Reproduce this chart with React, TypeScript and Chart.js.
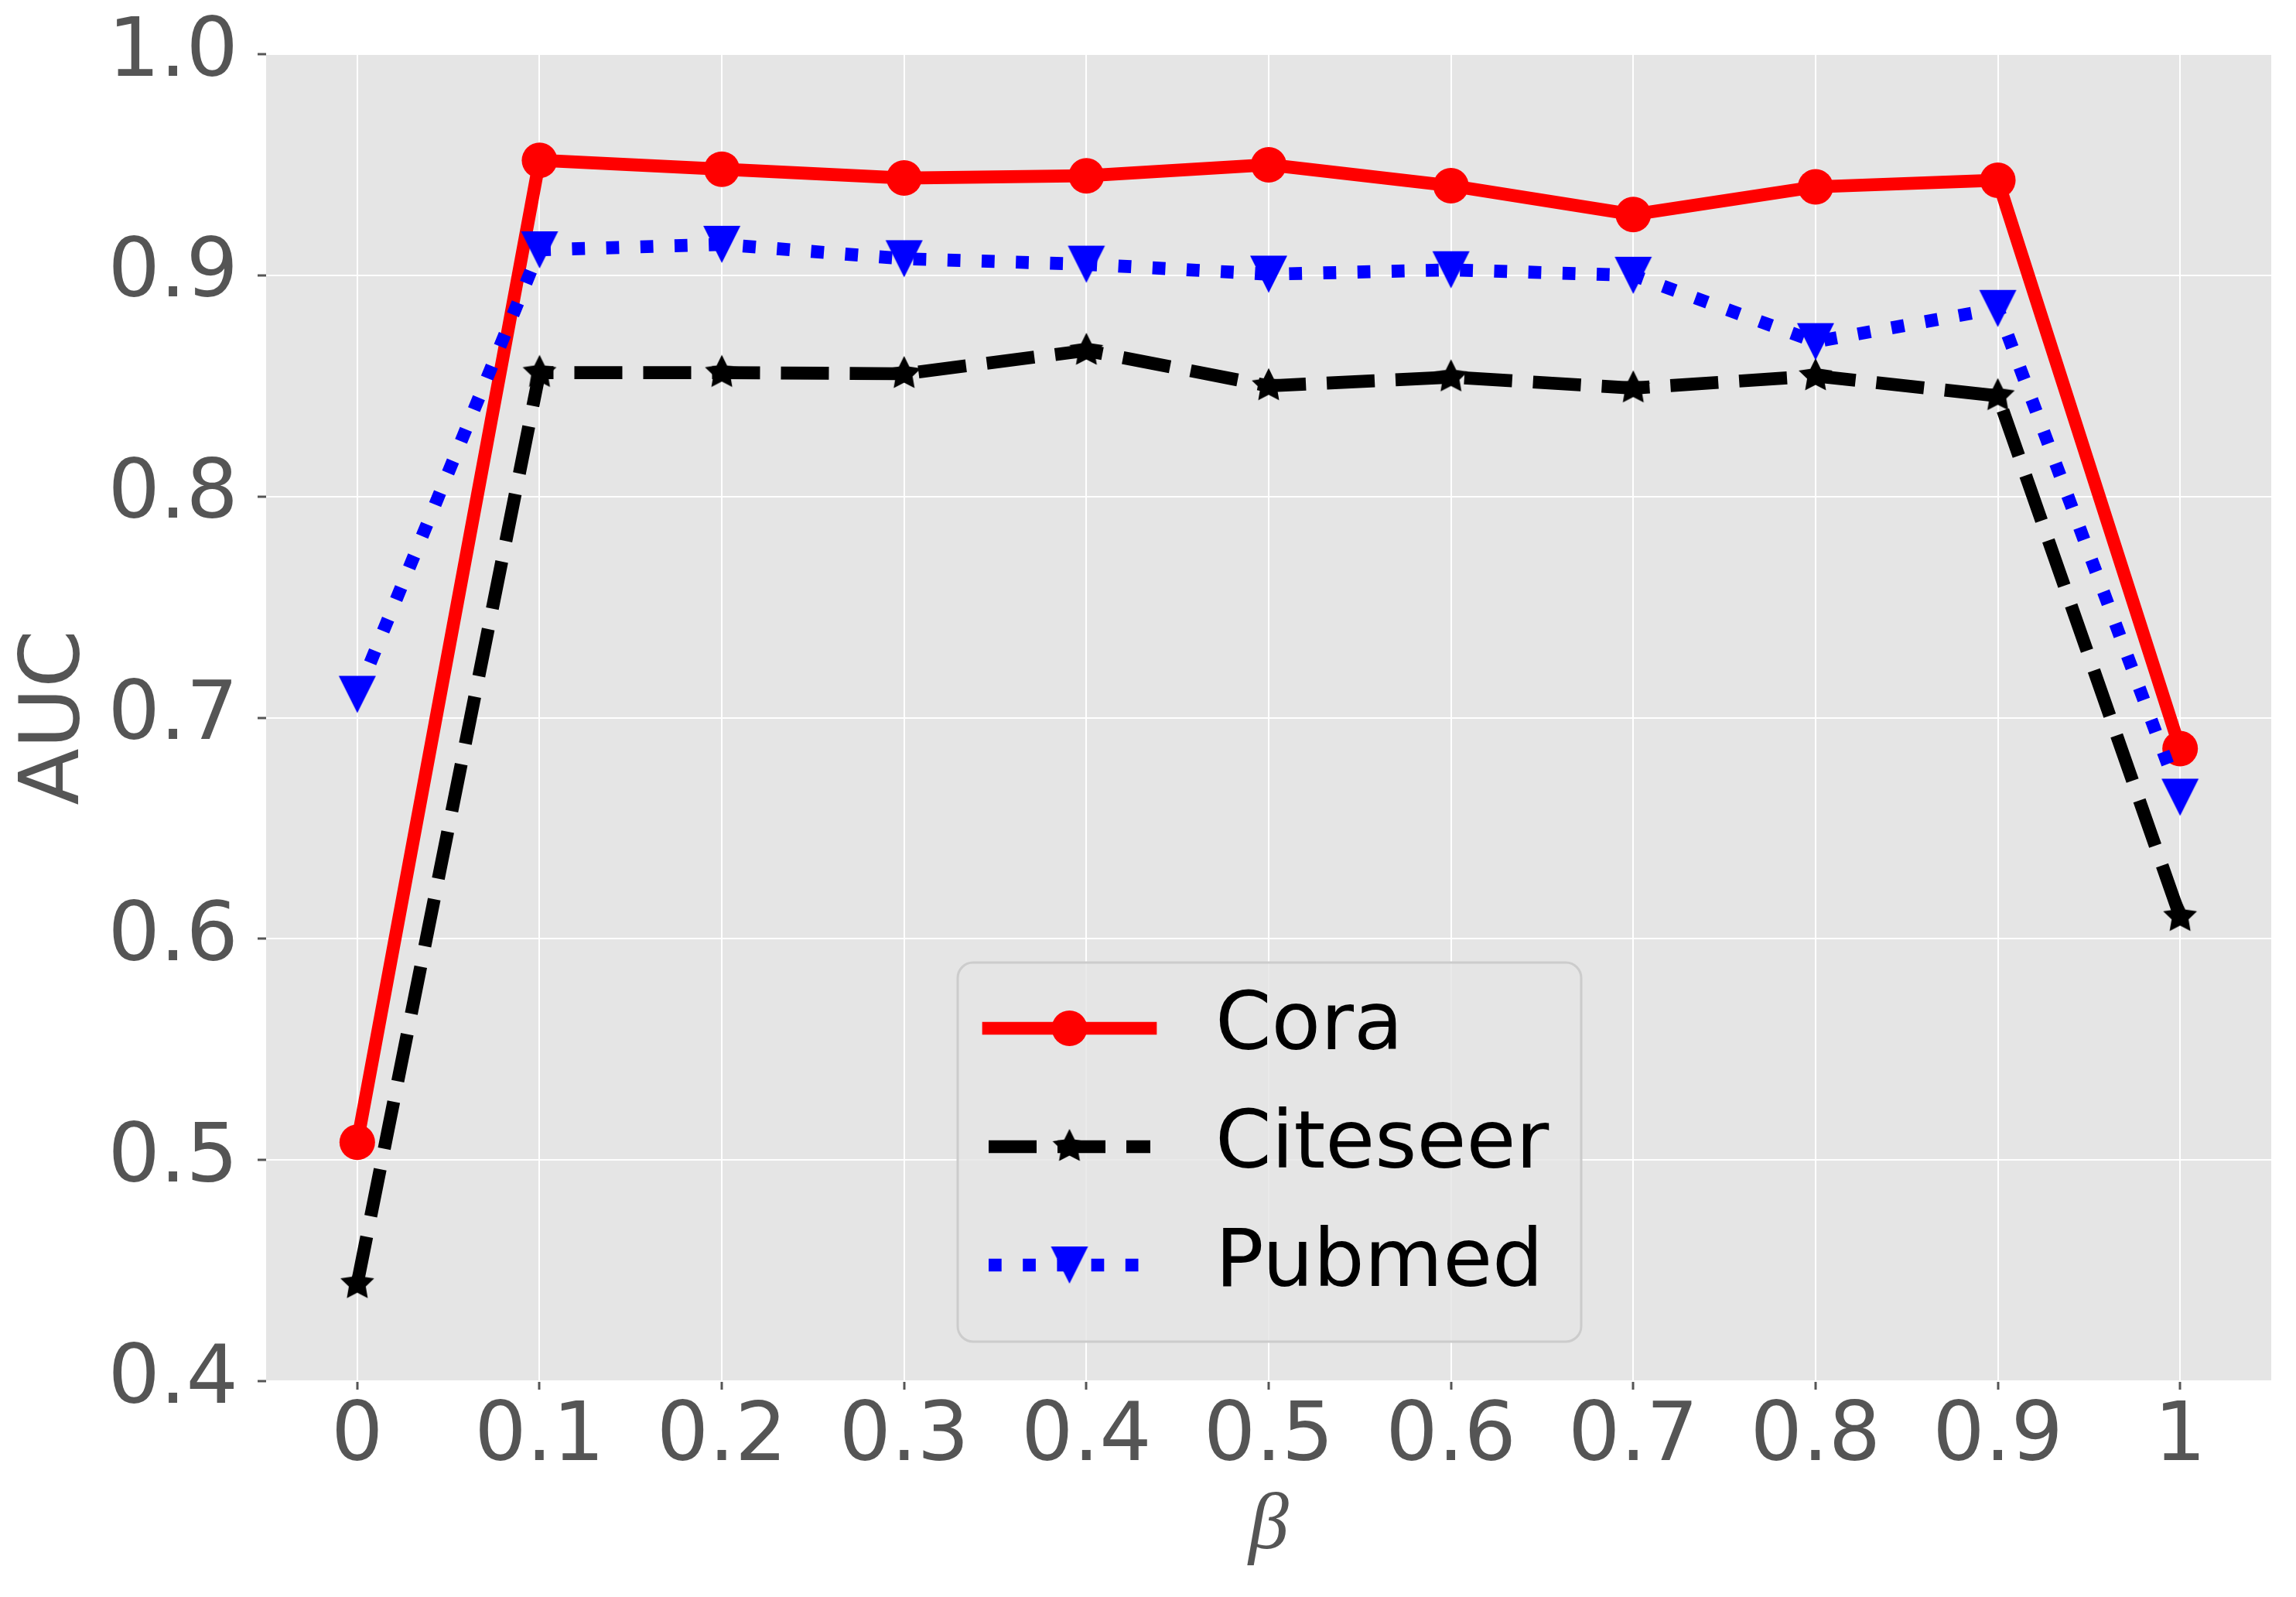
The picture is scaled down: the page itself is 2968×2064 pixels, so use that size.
import React, { useEffect, useRef } from "react";
import { Chart, registerables } from "chart.js";

Chart.register(...registerables);

// ---------- data ----------
const BETA = [0, 0.1, 0.2, 0.3, 0.4, 0.5, 0.6, 0.7, 0.8, 0.9, 1.0];
const X_TICK_LABELS = ["0", "0.1", "0.2", "0.3", "0.4", "0.5", "0.6", "0.7", "0.8", "0.9", "1"];
const Y_TICKS = [0.4, 0.5, 0.6, 0.7, 0.8, 0.9, 1.0];
const Y_TICK_LABELS = ["0.4", "0.5", "0.6", "0.7", "0.8", "0.9", "1.0"];

const SERIES_NAMES = ["Cora", "Citeseer", "Pubmed"];
const CORA = [0.508, 0.952, 0.948, 0.944, 0.945, 0.950, 0.9405, 0.9275, 0.940, 0.943, 0.686];
const CITESEER = [0.444, 0.856, 0.856, 0.8555, 0.866, 0.850, 0.854, 0.849, 0.8545, 0.8455, 0.610];
const PUBMED = [0.7105, 0.9115, 0.914, 0.9075, 0.905, 0.9005, 0.9025, 0.900, 0.870, 0.885, 0.664];

const W = 2968;
const H = 2064;
const LW = 16.7;
const TICK_FONT = "DejaVu Sans";

function makeTriangleDown(size: number, color: string) {
  const c = document.createElement("canvas");
  c.width = size + 2;
  c.height = size + 2;
  const ctx = c.getContext("2d")!;
  ctx.fillStyle = color;
  ctx.beginPath();
  ctx.moveTo(1, 1);
  ctx.lineTo(size + 1, 1);
  ctx.lineTo(size / 2 + 1, size + 1);
  ctx.closePath();
  ctx.fill();
  return c;
}

function makeStar(R: number, r: number, color: string) {
  const s = Math.ceil(2 * R + 4);
  const c = document.createElement("canvas");
  c.width = s;
  c.height = s;
  const ctx = c.getContext("2d")!;
  const cx = s / 2;
  const cy = s / 2;
  ctx.fillStyle = color;
  ctx.beginPath();
  for (let k = 0; k < 10; k++) {
    const ang = -Math.PI / 2 + (k * Math.PI) / 5;
    const rad = k % 2 === 0 ? R : r;
    const x = cx + Math.cos(ang) * rad;
    const y = cy + Math.sin(ang) * rad;
    if (k === 0) ctx.moveTo(x, y);
    else ctx.lineTo(x, y);
  }
  ctx.closePath();
  ctx.fill();
  return c;
}

function roundRectPath(ctx: CanvasRenderingContext2D, x: number, y: number, w: number, h: number, r: number) {
  ctx.beginPath();
  ctx.moveTo(x + r, y);
  ctx.lineTo(x + w - r, y);
  ctx.arcTo(x + w, y, x + w, y + r, r);
  ctx.lineTo(x + w, y + h - r);
  ctx.arcTo(x + w, y + h, x + w - r, y + h, r);
  ctx.lineTo(x + r, y + h);
  ctx.arcTo(x, y + h, x, y + h - r, r);
  ctx.lineTo(x, y + r);
  ctx.arcTo(x, y, x + r, y, r);
  ctx.closePath();
}

const bgPlugin = {
  id: "plotBg",
  beforeDraw(chart: any) {
    const { ctx, chartArea: a } = chart;
    ctx.save();
    ctx.fillStyle = "#E5E5E5";
    ctx.fillRect(a.left, a.top, a.right - a.left, a.bottom - a.top);
    ctx.restore();
  },
};

const legendPlugin = {
  id: "mplLegend",
  afterDraw(chart: any) {
    const { ctx, chartArea: a } = chart;
    const bx = a.left + 894;
    const by = a.top + 1174;
    const bw = 806;
    const bh = 490;
    ctx.save();
    roundRectPath(ctx, bx, by, bw, bh, 20);
    ctx.fillStyle = "rgba(229,229,229,0.8)";
    ctx.fill();
    ctx.lineWidth = 3;
    ctx.strokeStyle = "#cccccc";
    ctx.stroke();

    chart.data.datasets.forEach((ds: any, i: number) => {
      const y = by + 85 + i * 153;
      ctx.save();
      ctx.strokeStyle = ds.borderColor;
      ctx.lineWidth = ds.borderWidth;
      ctx.setLineDash(ds.borderDash || []);
      ctx.lineCap = ds.borderCapStyle || "butt";
      ctx.beginPath();
      ctx.moveTo(bx + 40, y);
      ctx.lineTo(bx + 249, y);
      ctx.stroke();
      ctx.restore();

      const mx = bx + 144.5;
      const ps = ds.pointStyle;
      if (ps && typeof ps === "object") {
        ctx.drawImage(ps, mx - ps.width / 2, y - ps.height / 2);
      } else {
        ctx.beginPath();
        ctx.arc(mx, y, ds.pointRadius, 0, Math.PI * 2);
        ctx.fillStyle = ds.pointBackgroundColor;
        ctx.fill();
      }

      ctx.fillStyle = "#000000";
      ctx.font = `104px "${TICK_FONT}"`;
      ctx.textAlign = "left";
      ctx.textBaseline = "middle";
      ctx.fillText(ds.label, bx + 333, y);
    });
    ctx.restore();
  },
};

export default function App() {
  const canvasRef = useRef<HTMLCanvasElement | null>(null);

  useEffect(() => {
    const canvas = canvasRef.current;
    if (!canvas) return;
    const star = makeStar(23, 11.5, "#000000");
    const tri = makeTriangleDown(48, "#0000ff");
    const pts = (ys: number[]) => BETA.map((x, i) => ({ x, y: ys[i] }));

    const chart = new Chart(canvas, {
      type: "line",
      data: {
        datasets: [
          {
            label: SERIES_NAMES[0],
            data: pts(CORA),
            borderColor: "#ff0000",
            backgroundColor: "#ff0000",
            borderWidth: LW,
            borderCapStyle: "square",
            borderJoinStyle: "round",
            pointStyle: "circle",
            pointRadius: 23,
            pointBackgroundColor: "#ff0000",
            pointBorderWidth: 0,
            order: 2,
          },
          {
            label: SERIES_NAMES[1],
            data: pts(CITESEER),
            borderColor: "#000000",
            backgroundColor: "#000000",
            borderWidth: LW,
            borderDash: [62, 27],
            borderCapStyle: "butt",
            borderJoinStyle: "round",
            pointStyle: star,
            pointRadius: 22,
            pointBorderWidth: 0,
            order: 1,
          },
          {
            label: SERIES_NAMES[2],
            data: pts(PUBMED),
            borderColor: "#0000ff",
            backgroundColor: "#0000ff",
            borderWidth: LW,
            borderDash: [16.7, 27.5],
            borderCapStyle: "butt",
            borderJoinStyle: "round",
            pointStyle: tri,
            pointRadius: 24,
            pointBorderWidth: 0,
            order: 0,
          },
        ] as any,
      },
      options: {
        animation: false,
        responsive: false,
        devicePixelRatio: 1,
        events: [],
        layout: { padding: { left: 0, right: 32, top: 70, bottom: 0 } },
        plugins: {
          legend: { display: false },
          tooltip: { enabled: false },
        },
        scales: {
          x: {
            type: "linear",
            min: -0.05,
            max: 1.05,
            afterBuildTicks: (s: any) => {
              s.ticks = BETA.map((v) => ({ value: v }));
            },
            afterFit: (s: any) => {
              s.height = 279;
              s.paddingLeft = 0;
              s.paddingRight = 0;
            },
            ticks: {
              autoSkip: false,
              maxRotation: 0,
              minRotation: 0,
              padding: 0,
              color: "#555555",
              font: { family: TICK_FONT, size: 106 },
              callback: (_v: any, i: number) => X_TICK_LABELS[i],
            },
            grid: {
              color: "#ffffff",
              lineWidth: 2,
              tickColor: "#555555",
              tickLength: 11,
              tickWidth: 3,
            },
            border: { display: false },
            title: {
              display: true,
              text: "β",
              color: "#555555",
              font: { family: "Liberation Serif", style: "italic", size: 104 },
              padding: { top: 0, bottom: 28 },
            },
          },
          y: {
            type: "linear",
            min: 0.4,
            max: 1.0,
            afterBuildTicks: (s: any) => {
              s.ticks = Y_TICKS.map((v) => ({ value: v }));
            },
            afterFit: (s: any) => {
              s.width = 344;
              s.paddingTop = 0;
              s.paddingBottom = 0;
            },
            ticks: {
              padding: 25,
              color: "#555555",
              font: { family: TICK_FONT, size: 106 },
              callback: (_v: any, i: number) => Y_TICK_LABELS[i],
            },
            grid: {
              color: "#ffffff",
              lineWidth: 2,
              tickColor: "#555555",
              tickLength: 11,
              tickWidth: 3,
            },
            border: { display: false },
            title: {
              display: true,
              text: "AUC",
              color: "#555555",
              font: { family: TICK_FONT, size: 107 },
              padding: { top: 9, bottom: 0 },
            },
          },
        },
      } as any,
      plugins: [bgPlugin, legendPlugin],
    });

    return () => {
      chart.destroy();
    };
  }, []);

  return (
    <div style={{ position: "absolute", left: 0, top: 0, width: W, height: H, background: "#ffffff" }}>
      <canvas ref={canvasRef} width={W} height={H} style={{ width: W, height: H, display: "block" }} />
    </div>
  );
}
